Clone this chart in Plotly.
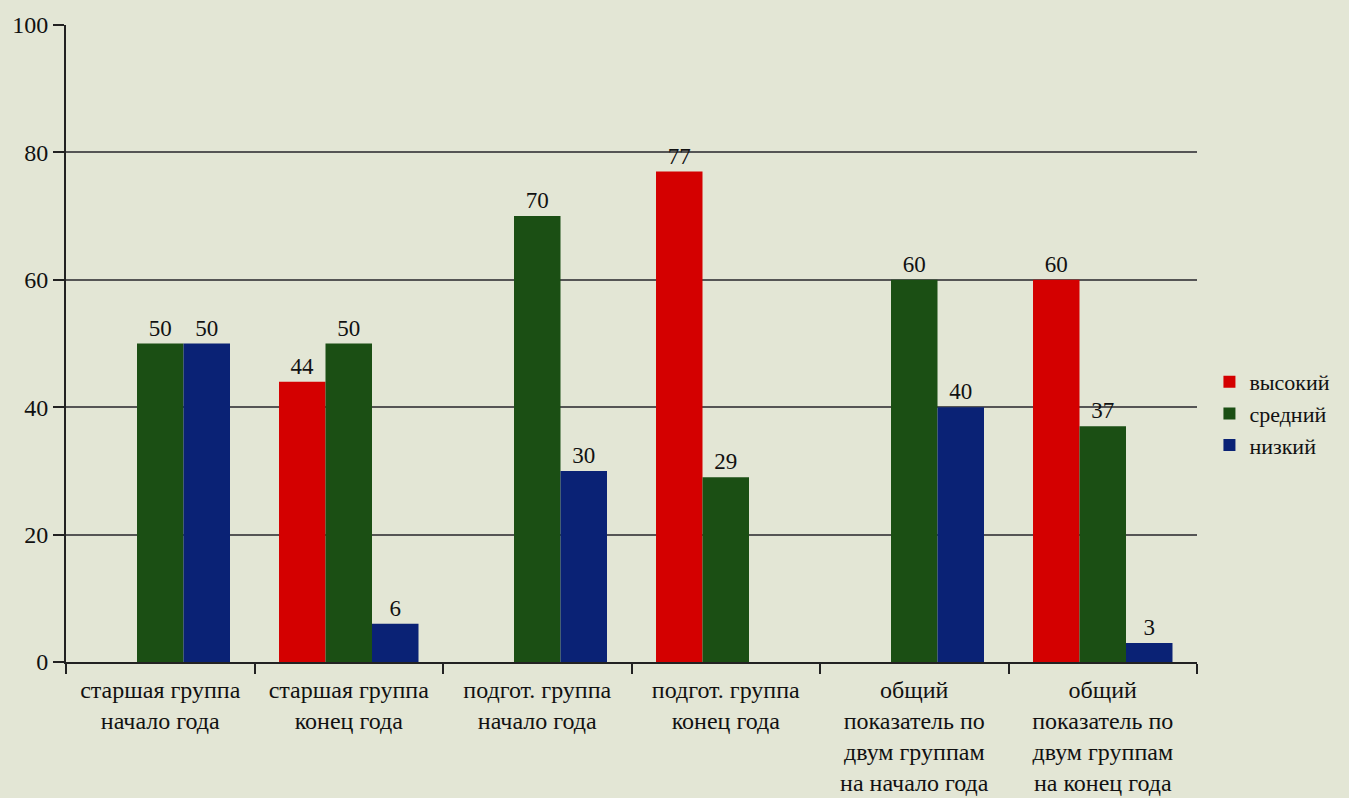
import plotly.graph_objects as go

categories = [
    "старшая группа<br>начало года",
    "старшая группа<br>конец года",
    "подгот. группа<br>начало года",
    "подгот. группа<br>конец года",
    "общий<br>показатель по<br>двум группам<br>на начало года",
    "общий<br>показатель по<br>двум группам<br>на конец года",
]
high = [None, 44, None, 77, None, 60]
mid = [50, 50, 70, 29, 60, 37]
low = [50, 6, 30, None, 40, 3]
y_ticks = [0, 20, 40, 60, 80, 100]

series = [
    ("высокий", high, "#d40000"),
    ("средний", mid, "#1b4f14"),
    ("низкий", low, "#0a2275"),
]

FONT = "'Liberation Serif', 'DejaVu Serif', serif"
fig = go.Figure()
for name, vals, color in series:
    fig.add_trace(go.Bar(
        name=name, x=categories, y=vals,
        marker=dict(color=color, line=dict(width=0)),
        text=[("" if v is None else str(v)) for v in vals],
        textposition="outside", cliponaxis=False,
        textfont=dict(family=FONT, size=23, color="#111111"),
    ))

bg = "#e3e6d5"
fig.update_layout(
    width=1349, height=798,
    barmode="group", bargap=0.26, bargroupgap=0,
    paper_bgcolor=bg, plot_bgcolor=bg,
    margin=dict(l=66, r=152, t=25, b=136, autoexpand=False),
    font=dict(family=FONT, color="#111111"),
    legend=dict(
        x=1.011, xanchor="left", y=0.39, yanchor="middle",
        font=dict(family=FONT, size=22, color="#111111"),
        itemwidth=30, tracegroupgap=0, bgcolor="rgba(0,0,0,0)",
    ),
    showlegend=True,
)
fig.update_xaxes(
    showline=True, linecolor="#222222", linewidth=2,
    ticks="outside", tickson="boundaries", ticklen=10, tickwidth=2, tickcolor="#222222",
    tickfont=dict(family=FONT, size=24, color="#111111"),
    ticklabelstandoff=5,
    showgrid=False,
)
fig.update_yaxes(
    range=[0, 100], tickvals=y_ticks,
    showline=True, linecolor="#222222", linewidth=2,
    ticks="outside", ticklen=11, tickwidth=2, tickcolor="#222222",
    showgrid=True, gridcolor="#555555", gridwidth=2,
    tickfont=dict(family=FONT, size=24, color="#111111"),
    zeroline=False,
)
fig.write_html(
    "out.html",
    config={"displayModeBar": False},
    post_script="document.body.style.margin='0';document.body.style.background='#e3e6d5';",
)
